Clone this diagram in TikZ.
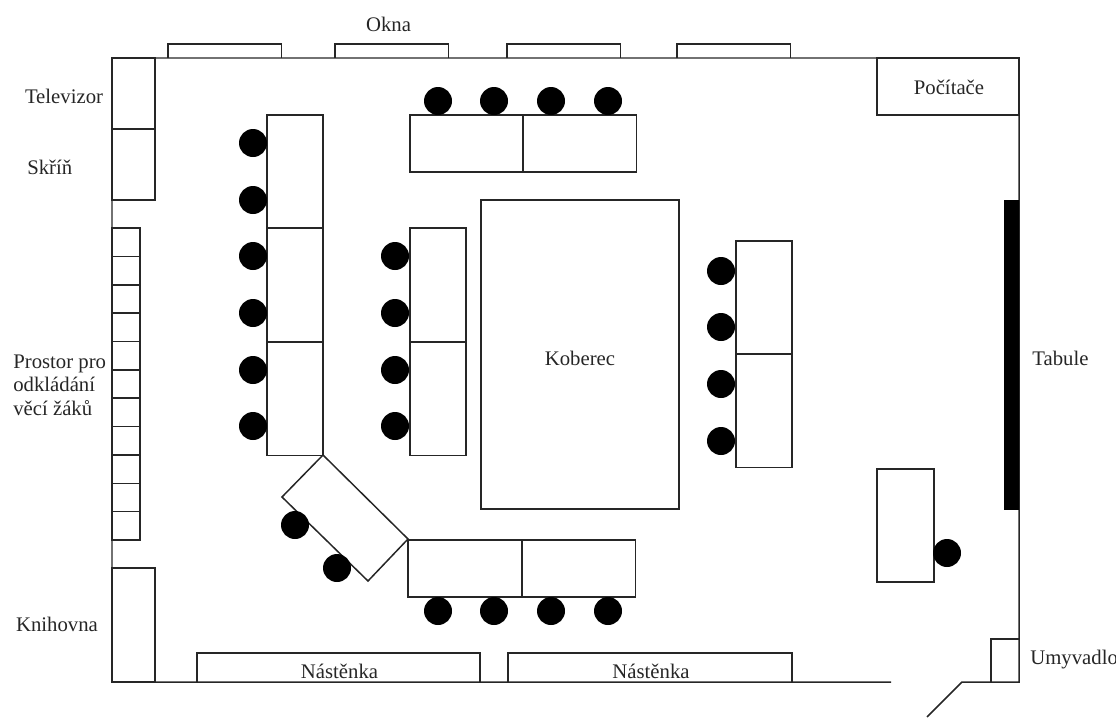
\documentclass[tikz,border=0pt]{standalone}
\usepackage{fontspec}
\setmainfont{Liberation Serif}
\usepackage{tikz}
\tikzset{
  wall/.style={draw=black!85,line width=0.85pt},
  chair/.style={fill=black},
  popis/.style={font=\fontsize{11.8}{13.4}\selectfont,inner sep=0pt,text=black!85}
}
\begin{document}
\begin{tikzpicture}[x=0.02cm,y=-0.02cm]
\useasboundingbox (0,0) rectangle (1116,717);
% steny
\draw[wall] (891,682)--(112,682)--(112,58)--(1019,58)--(1019,682)--(962,682)coordinate(d)--(927,717);
% okna
\foreach \x in {168,335,507,677}
  \draw[wall] (\x,58)--(\x,44)--++(113.5,0)--++(0,14);
% skrine
\draw[wall] (112,58) rectangle (155,129);
\draw[wall] (112,129) rectangle (155,200);
\draw[wall] (112,568) rectangle (155,682);
\foreach \y in {228,256.4,284.7,313.1,341.5,369.8,398.2,426.5,454.9,483.3,511.6}
  \draw[wall] (112,\y) rectangle (140,\y+28.36);
\draw[wall] (197,682)--(197,653)--(480,653)--(480,682);
\draw[wall] (508,682)--(508,653)--(792,653)--(792,682);
\draw[wall] (877,58) rectangle (1019,115);
\draw[wall] (991,682)--(991,639)--(1019,639);
\fill[black] (1004,200) rectangle (1019,510);
% lavice
\foreach \y in {115,228,342}
  \draw[wall] (267,\y) rectangle (323,\y+113.5);
\foreach \y in {228,342}
  \draw[wall] (410,\y) rectangle (466,\y+113.5);
\foreach \y in {241,354}
  \draw[wall] (736,\y) rectangle (792,\y+113.5);
\foreach \x in {410,523}
  \draw[wall] (\x,115) rectangle (\x+113.5,172);
\foreach \x in {408,522}
  \draw[wall] (\x,540) rectangle (\x+113.5,597);
\draw[wall] (323,455)--(282,497)--(368,581)--(408,539)--cycle;
\draw[wall] (877,469) rectangle (934,582);
\draw[wall] (481,200) rectangle (679,509);
% zidle
\foreach \y in {143,200,256,313,370,426}
  \fill[chair] (253,\y) circle (14);
\foreach \y in {256,313,370,426}
  \fill[chair] (395,\y) circle (14);
\foreach \y in {271,327,384,441}
  \fill[chair] (721,\y) circle (14);
\foreach \x in {438,494,551,608}{
  \fill[chair] (\x,101) circle (14);
  \fill[chair] (\x,611) circle (14);
}
\fill[chair] (295,525) circle (14);
\fill[chair] (337,568) circle (14);
\fill[chair] (947,553) circle (14);
% popisky
\node[popis] (okna) at (388.5,24) {Okna};
\node[popis] (televizor) at (64,96) {Televizor};
\node[popis,anchor=west] (skrin) at (27,167) {Skříň};
\node[popis,anchor=west,align=left] (prostor) at (13,385) {Prostor pro\\odkládání\\věcí žáků};
\node[popis] (knihovna) at (57,624) {Knihovna};
\node[popis] (nastenka1) at (339.5,671) {Nástěnka};
\node[popis] (nastenka2) at (651,671) {Nástěnka};
\node[popis] (koberec) at (580,358) {Koberec};
\node[popis] (pocitace) at (949,87) {Počítače};
\node[popis,anchor=west] (tabule) at (1032,358) {Tabule};
\node[popis,anchor=west] (umyvadlo) at (1030,660) {Umyvadlo};
\end{tikzpicture}
\end{document}
